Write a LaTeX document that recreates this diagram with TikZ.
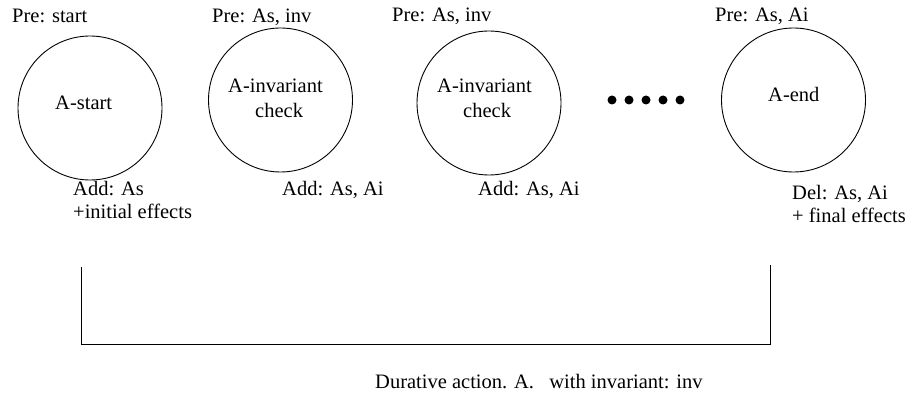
\documentclass[tikz,border=0pt]{standalone}
\usepackage{fontspec}
\setmainfont{Liberation Serif}
\begin{document}
\begin{tikzpicture}[x=1pt,y=-1pt,
  stage/.style={draw=black,circle,minimum size=144pt,inner sep=0pt,line width=0.9pt},
  txt/.style={anchor=base west,inner sep=0pt,font=\fontsize{20.5}{24}\selectfont},
  dot/.style={circle,fill=black,inner sep=0pt,minimum size=9pt},
  frame/.style={draw=black,line width=0.9pt}]
\useasboundingbox (0,0) rectangle (912,395);

% the four stages of the durative action
\node[stage] (s1) at (90,108) {};
\node[stage] (s2) at (280.5,100) {};
\node[stage] (s3) at (489,103) {};
\node[stage] (s4) at (793.5,100) {};

% names inside the stages
\node[txt] (n1) at (55,110) {A-start};
\node[txt] (n2a) at (228,93) {A-invariant};
\node[txt] (n2b) at (255,118) {check};
\node[txt] (n3a) at (437,93) {A-invariant};
\node[txt] (n3b) at (463,118) {check};
\node[txt] (n4) at (768,102) {A-end};

% preconditions
\node[txt] (p1) at (12,23) {Pre: start};
\node[txt] (p2) at (212,23) {Pre: As, inv};
\node[txt] (p3) at (392,22) {Pre: As, inv};
\node[txt] (p4) at (715,22) {Pre: As, Ai};

% effects
\node[txt] (e1a) at (73,196) {Add: As};
\node[txt] (e1b) at (73,219) {+initial effects};
\node[txt] (e2) at (282,196) {Add: As, Ai};
\node[txt] (e3) at (478,196) {Add: As, Ai};
\node[txt] (e4a) at (792,200) {Del: As, Ai};
\node[txt] (e4b) at (792,223) {+ final effects};

% ellipsis between the invariant checks and the end
\foreach \i in {0,...,4}
  \node[dot] (d\i) at (612+17*\i,100) {};

% bracket spanning the whole action
\coordinate (bl) at (81,267);
\coordinate (bll) at (81,344);
\coordinate (brl) at (770,344);
\coordinate (br) at (770,265);
\draw[frame] (bl) -- (bll) -- (brl) -- (br);

\node[txt] (cap) at (375,388) {Durative action. A.\ \ \ with invariant: inv};
\end{tikzpicture}
\end{document}
